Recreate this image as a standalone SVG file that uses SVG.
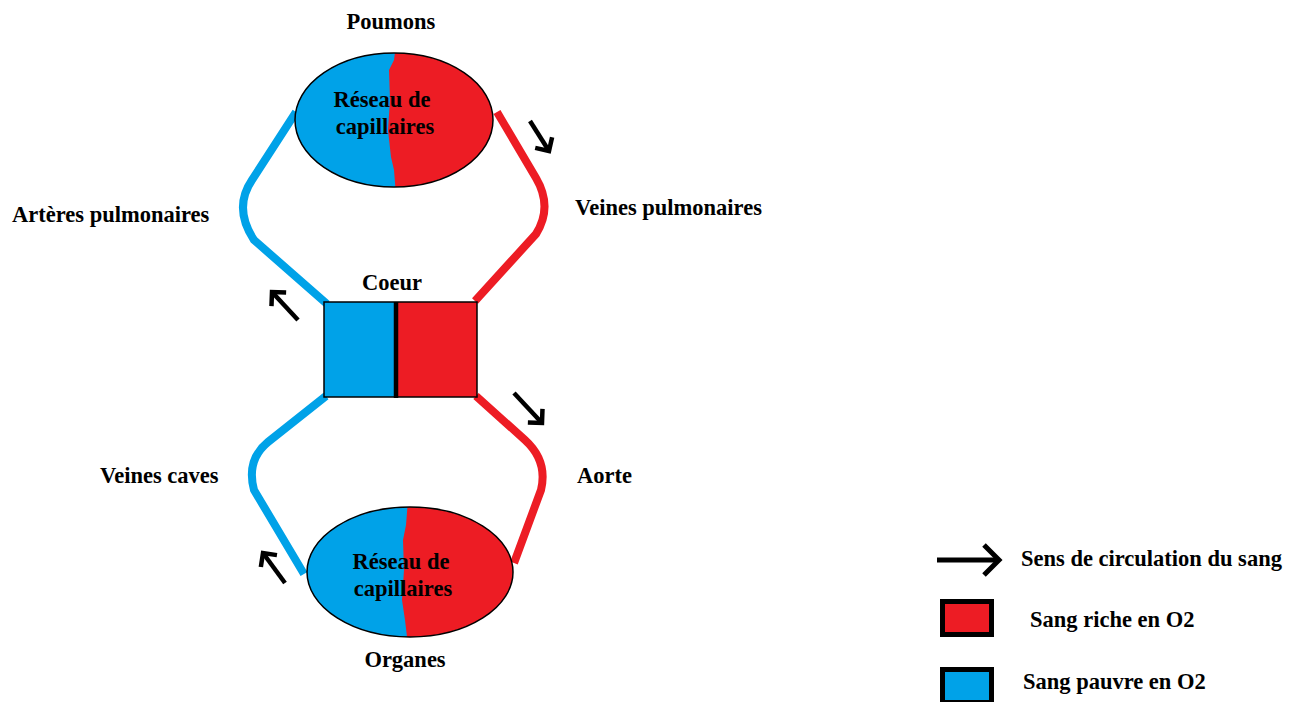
<svg xmlns="http://www.w3.org/2000/svg" width="1297" height="702" viewBox="0 0 1297 702">
<style>
text{font-family:"Liberation Serif","Times New Roman",serif;font-weight:bold;font-size:22.5px;fill:#000}
.blue{fill:#00A2E8}
.red{fill:#ED1C24}
.edge{fill:none;stroke-width:8;stroke-linejoin:round;stroke-linecap:butt}
.eb{stroke:#00A2E8}
.er{stroke:#ED1C24}
.arr{fill:none;stroke:#000;stroke-width:4.5;marker-end:url(#vh)}
.outline{fill:none;stroke:#000;stroke-width:1.5}
</style>
<defs>
<marker id="vh" viewBox="0 0 24 24" refX="20" refY="12" markerWidth="24" markerHeight="24" markerUnits="userSpaceOnUse" orient="auto" overflow="visible">
<path d="M10,2 L20,12 L10,22" fill="none" stroke="#000" stroke-width="4.5"/>
</marker>
<clipPath id="cTop"><ellipse cx="394" cy="120" rx="99" ry="67"/></clipPath>
<clipPath id="cBot"><ellipse cx="410" cy="572" rx="103" ry="65"/></clipPath>
</defs>
<rect width="1297" height="702" fill="#fff"/>

<g id="connectors">
<path class="edge eb" d="M296,112 L252,180 Q233,208 254,240 L327,304"/>
<path class="edge er" d="M497,112 L536,178 Q553,207 536,234 L475,301"/>
<path class="edge eb" d="M326,396 L268,442 Q246,460 254,490 L304,574"/>
<path class="edge er" d="M476,396 L525,440 Q548,461 541,490 L514,563"/>
<path class="arr" d="M530,121 L549,151"/>
<path class="arr" d="M298,320 L272,292"/>
<path class="arr" d="M514,393 L542,423"/>
<path class="arr" d="M285,583 L263,553"/>
</g>

<g id="poumons">
<g clip-path="url(#cTop)">
<rect x="290" y="50" width="210" height="140" class="red"/>
<path class="blue" d="M290,45 L396,45 L394,60 L389,70 L390,100 L388,130 L391,157 L394,170 L396,195 L290,195 Z"/>
</g>
<ellipse cx="394" cy="120" rx="99" ry="67" class="outline"/>
<text x="382" y="107" text-anchor="middle">Réseau de</text>
<text x="385" y="134" text-anchor="middle">capillaires</text>
<text x="391" y="29" text-anchor="middle">Poumons</text>
</g>

<g id="coeur">
<rect x="324" y="302" width="71" height="95" class="blue"/>
<rect x="395" y="302" width="82" height="95" class="red"/>
<rect x="324" y="302" width="153" height="95" class="outline"/>
<line x1="396" y1="302" x2="396" y2="398" stroke="#000" stroke-width="4.5"/>
<text x="392" y="290" text-anchor="middle">Coeur</text>
</g>

<g id="organes">
<g clip-path="url(#cBot)">
<rect x="300" y="500" width="220" height="145" class="red"/>
<path class="blue" d="M300,500 L408,500 L406,525 L403,540 L404,570 L402,600 L405,620 L408,645 L300,645 Z"/>
</g>
<ellipse cx="410" cy="572" rx="103" ry="65" class="outline"/>
<text x="401" y="569" text-anchor="middle">Réseau de</text>
<text x="403" y="596" text-anchor="middle">capillaires</text>
<text x="405" y="667" text-anchor="middle">Organes</text>
</g>

<g id="labels">
<text x="12" y="222">Artères pulmonaires</text>
<text x="575" y="215">Veines pulmonaires</text>
<text x="100" y="483">Veines caves</text>
<text x="577" y="483">Aorte</text>
</g>

<g id="legend">
<path d="M937,560 L998,560" stroke="#000" stroke-width="5" fill="none"/>
<path d="M984,545 L999,560 L984,575" stroke="#000" stroke-width="5" fill="none"/>
<text x="1021" y="566">Sens de circulation du sang</text>
<rect x="942.5" y="601.5" width="49" height="33" class="red" stroke="#000" stroke-width="5"/>
<text x="1030" y="627">Sang riche en O2</text>
<rect x="942.5" y="669.5" width="49" height="33" class="blue" stroke="#000" stroke-width="5"/>
<text x="1023" y="689">Sang pauvre en O2</text>
</g>
</svg>
